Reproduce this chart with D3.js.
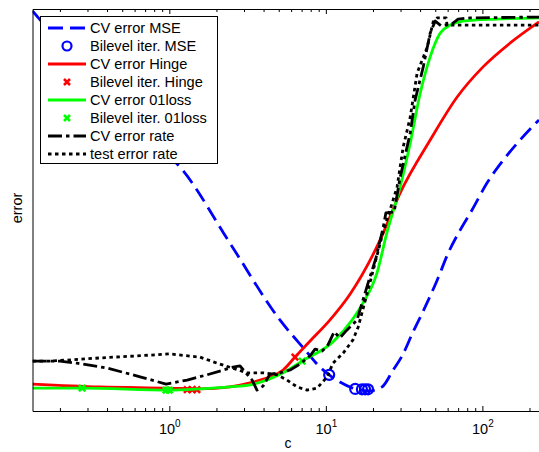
<!DOCTYPE html>
<html>
<head>
<meta charset="utf-8">
<script src="https://cdn.jsdelivr.net/npm/d3@7"></script>
<style>
  body { margin: 0; background: #fff; }
  text { font-family: "Liberation Sans", Arial, Helvetica, sans-serif; }
</style>
</head>
<body>
<svg id="chart" width="539" height="452"></svg>
<script>
// Regularisation parameter c and error curves
const mseC   = [0.1336, 0.161, 0.269, 0.484, 0.753, 1.21, 2.48, 5.10, 7.36, 9.18, 10.5, 12.3, 15.4, 19.1, 22.9, 26.9, 30.7, 36.1, 43.1, 51.5, 60.5, 72.1, 85.9, 107, 136, 174, 230];
const mseErr = [0.995, 0.958, 0.861, 0.754, 0.679, 0.600, 0.413, 0.226, 0.152, 0.109, 0.090, 0.072, 0.055, 0.050, 0.060, 0.102, 0.137, 0.197, 0.259, 0.326, 0.393, 0.450, 0.500, 0.567, 0.624, 0.674, 0.724];

const mseIterC   = [10.5, 15.4, 17.0, 17.8, 18.6];
const mseIterErr = [0.090, 0.055, 0.054, 0.054, 0.054];

const hingeC   = [0.1336, 0.361, 1.0, 1.57, 2.44, 3.28, 4.40, 5.33, 6.35, 7.93, 10.6, 14.3, 22.2, 29.8, 46.4, 69.0, 101, 150, 230];
const hingeErr = [0.067, 0.060, 0.057, 0.055, 0.060, 0.070, 0.085, 0.102, 0.134, 0.174, 0.226, 0.291, 0.425, 0.542, 0.674, 0.781, 0.856, 0.915, 0.968];

const hingeIterC   = [1.30, 1.40, 1.50, 6.35];
const hingeIterErr = [0.053, 0.053, 0.053, 0.134];

const lossC   = [0.1336, 0.277, 1.0, 1.57, 2.44, 3.28, 5.33, 7.05, 11.1, 14.7, 17.0, 21.2, 24.6, 29.8, 34.6, 40.1, 46.4, 53.8, 62.3, 75.3, 124, 230];
const lossErr = [0.057, 0.057, 0.052, 0.055, 0.060, 0.065, 0.095, 0.124, 0.172, 0.226, 0.264, 0.343, 0.445, 0.557, 0.667, 0.791, 0.881, 0.940, 0.960, 0.970, 0.975, 0.978];

const lossIterC   = [0.277, 0.953, 1.0, 7.05];
const lossIterErr = [0.057, 0.052, 0.052, 0.124];

const rateC   = [0.1336, 0.200, 0.257, 0.400, 0.650, 0.953, 1.30, 1.74, 2.55, 2.83, 3.05, 3.38, 3.63, 3.97, 4.40, 5.10, 5.91, 6.84, 7.93, 8.53, 9.46, 10.3, 11.3, 12.3, 13.3, 15.8, 18.6, 20.9, 23.2, 24.2, 27.3, 29.8, 34.6, 37.2, 41.9, 46.4, 50.0, 54.5, 64.0, 70.0, 83.5, 230];
const rateErr = [0.124, 0.124, 0.119, 0.107, 0.085, 0.067, 0.077, 0.090, 0.109, 0.112, 0.097, 0.077, 0.052, 0.062, 0.092, 0.095, 0.102, 0.117, 0.137, 0.154, 0.149, 0.164, 0.197, 0.182, 0.197, 0.226, 0.318, 0.381, 0.455, 0.493, 0.495, 0.580, 0.692, 0.774, 0.856, 0.940, 0.970, 0.958, 0.963, 0.975, 0.978, 0.980];

const testC   = [0.1336, 0.173, 0.361, 0.753, 1.0, 1.57, 2.02, 3.14, 3.97, 4.88, 5.65, 6.55, 7.59, 8.79, 10.2, 11.1, 12.9, 14.9, 16.1, 19.1, 23.2, 25.7, 28.5, 31.2, 34.6, 38.3, 44.4, 48.5, 51.5, 58.7, 59.5, 230];
const testErr = [0.124, 0.124, 0.132, 0.139, 0.142, 0.134, 0.119, 0.095, 0.095, 0.090, 0.077, 0.060, 0.052, 0.057, 0.085, 0.119, 0.144, 0.177, 0.209, 0.318, 0.445, 0.500, 0.557, 0.657, 0.731, 0.841, 0.905, 0.968, 0.978, 0.978, 0.960, 0.960];

const xTickValues = [1, 10, 100];
const xLabel = "c";
const yLabel = "error";
const legendLabels = [
  "CV error MSE", "Bilevel iter. MSE", "CV error Hinge", "Bilevel iter. Hinge",
  "CV error 01loss", "Bilevel iter. 01loss", "CV error rate", "test error rate"
];

const zip = (a, b) => a.map((v, i) => [v, b[i]]);

const svg = d3.select("#chart");
const plotLeft = 32.5, plotRight = 539, plotTop = 9, plotBottom = 411;

const x = d3.scaleLog().domain([0.1336, 230]).range([plotLeft, plotRight]);
const y = d3.scaleLinear().domain([0, 1]).range([plotBottom, plotTop]);

svg.append("defs").append("clipPath").attr("id", "plotClip")
  .append("rect").attr("x", plotLeft).attr("y", plotTop)
  .attr("width", plotRight - plotLeft).attr("height", plotBottom - plotTop);

const plot = svg.append("g").attr("clip-path", "url(#plotClip)");

const smoothLine = d3.line().x(d => x(d[0])).y(d => y(d[1])).curve(d3.curveMonotoneX);
const rawLine = d3.line().x(d => x(d[0])).y(d => y(d[1]));

const LW = 2.8;
const styles = {
  mse:   { stroke: "#0000ff", dash: "15,7" },
  hinge: { stroke: "#ff0000", dash: null },
  loss:  { stroke: "#00ff00", dash: null },
  rate:  { stroke: "#000000", dash: "14,4,3.5,4" },
  test:  { stroke: "#000000", dash: "3.5,3.5" }
};

function drawLine(data, st, gen) {
  plot.append("path").datum(data)
    .attr("d", gen)
    .attr("fill", "none")
    .attr("stroke", st.stroke)
    .attr("stroke-width", LW)
    .attr("stroke-dasharray", st.dash)
    .attr("stroke-linejoin", "round");
}

function drawCircles(g, data, color) {
  g.selectAll(null).data(data).enter().append("circle")
    .attr("cx", d => x(d[0])).attr("cy", d => y(d[1]))
    .attr("r", 5).attr("fill", "none")
    .attr("stroke", color).attr("stroke-width", 2.2);
}

function crossPath(cx, cy, s) {
  return `M${cx - s},${cy - s}L${cx + s},${cy + s}M${cx - s},${cy + s}L${cx + s},${cy - s}`;
}

function drawCrosses(g, data, color) {
  g.selectAll(null).data(data).enter().append("path")
    .attr("d", d => crossPath(x(d[0]), y(d[1]), 3.2))
    .attr("stroke", color).attr("stroke-width", 2.6).attr("fill", "none");
}

// curves, in legend order
drawLine(zip(mseC, mseErr), styles.mse, smoothLine);
drawCircles(plot, zip(mseIterC, mseIterErr), "#0000ff");
drawLine(zip(hingeC, hingeErr), styles.hinge, smoothLine);
drawCrosses(plot, zip(hingeIterC, hingeIterErr), "#ff0000");
drawLine(zip(lossC, lossErr), styles.loss, smoothLine);
drawCrosses(plot, zip(lossIterC, lossIterErr), "#00ff00");
drawLine(zip(rateC, rateErr), styles.rate, rawLine);
drawLine(zip(testC, testErr), styles.test, rawLine);

// axes: minor and major ticks pointing inward on bottom and top
const minorTicks = x.ticks().filter(v => !xTickValues.includes(v));

function styleAxis(g) {
  g.selectAll("path.domain").attr("stroke", "#000").attr("stroke-width", 1);
  g.selectAll(".tick line").attr("stroke", "#000").attr("stroke-width", 1);
}

svg.append("g").attr("transform", `translate(0,${plotBottom})`)
  .call(d3.axisBottom(x).tickValues(minorTicks).tickSizeInner(-3).tickSizeOuter(0).tickFormat(""))
  .call(styleAxis);
svg.append("g").attr("transform", `translate(0,${plotTop})`)
  .call(d3.axisTop(x).tickValues(minorTicks).tickSizeInner(-3).tickSizeOuter(0).tickFormat(""))
  .call(styleAxis);

const majorBottom = svg.append("g").attr("transform", `translate(0,${plotBottom})`)
  .call(d3.axisBottom(x).tickValues(xTickValues).tickSizeInner(-5).tickSizeOuter(0).tickFormat(""))
  .call(styleAxis);
svg.append("g").attr("transform", `translate(0,${plotTop})`)
  .call(d3.axisTop(x).tickValues(xTickValues).tickSizeInner(-5).tickSizeOuter(0).tickFormat(""))
  .call(styleAxis);

majorBottom.selectAll(".tick").each(function (d) {
  const t = d3.select(this).append("text")
    .attr("y", 23).attr("text-anchor", "middle")
    .attr("fill", "#000").attr("font-size", 14.5);
  t.append("tspan").text("10");
  t.append("tspan").attr("dy", -7).attr("font-size", 10).text(Math.round(Math.log10(d)));
});

svg.append("g").attr("transform", `translate(${plotLeft},0)`)
  .call(d3.axisLeft(y).tickValues([]).tickSizeOuter(0))
  .call(styleAxis);

// axis titles
svg.append("text").attr("x", 288).attr("y", 448)
  .attr("text-anchor", "middle").attr("font-size", 14).text(xLabel);
svg.append("text").attr("transform", "translate(22,208) rotate(-90)")
  .attr("text-anchor", "middle").attr("font-size", 14.5).text(yLabel);

// legend
const lg = svg.append("g");
lg.append("rect").attr("x", 40.5).attr("y", 16.5).attr("width", 177).attr("height", 147)
  .attr("fill", "#fff").attr("stroke", "#000").attr("stroke-width", 1);

const legendKinds = [
  { type: "line", st: styles.mse },
  { type: "circle", color: "#0000ff" },
  { type: "line", st: styles.hinge },
  { type: "cross", color: "#ff0000" },
  { type: "line", st: styles.loss },
  { type: "cross", color: "#00ff00" },
  { type: "line", st: styles.rate },
  { type: "line", st: styles.test }
];

legendLabels.forEach((label, i) => {
  const ry = 28 + 18 * i;
  const k = legendKinds[i];
  if (k.type === "line") {
    lg.append("line").attr("x1", 48).attr("x2", 86).attr("y1", ry).attr("y2", ry)
      .attr("stroke", k.st.stroke).attr("stroke-width", LW)
      .attr("stroke-dasharray", k.st.dash);
  } else if (k.type === "circle") {
    lg.append("circle").attr("cx", 67).attr("cy", ry).attr("r", 4.5)
      .attr("fill", "none").attr("stroke", k.color).attr("stroke-width", 2.2);
  } else {
    lg.append("path").attr("d", crossPath(67, ry, 3)).attr("stroke", k.color)
      .attr("stroke-width", 2.6).attr("fill", "none");
  }
  lg.append("text").attr("x", 90).attr("y", ry + 5).attr("font-size", 14.6)
    .attr("fill", "#000").text(label);
});
</script>
</body>
</html>
